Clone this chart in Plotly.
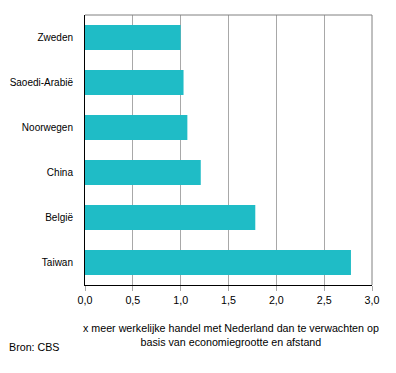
import plotly.graph_objects as go

categories = ["Zweden", "Saoedi-Arabië", "Noorwegen", "China", "België", "Taiwan"]
values = [1.0, 1.03, 1.07, 1.21, 1.78, 2.78]
tick_vals = [0, 0.5, 1.0, 1.5, 2.0, 2.5, 3.0]
tick_text = ["0,0", "0,5", "1,0", "1,5", "2,0", "2,5", "3,0"]
x_title = "x meer werkelijke handel met Nederland dan te verwachten op<br>basis van economiegrootte en afstand"
source = "Bron: CBS"

FONT = "Liberation Sans, Arial, sans-serif"

fig = go.Figure(go.Bar(
    x=values, y=categories, orientation="h",
    marker=dict(color="#1fbcc6", line=dict(width=0)),
    width=0.555, hoverinfo="skip",
))

# page body has an 8px default margin; compensate
fig.update_layout(
    width=388, height=365,
    margin=dict(l=77, r=24, t=7, b=88, autoexpand=False),
    plot_bgcolor="white", paper_bgcolor="white",
    showlegend=False,
    font=dict(family=FONT, size=10.7, color="#000000"),
    xaxis=dict(
        range=[0, 3.0], tickvals=tick_vals, ticktext=tick_text,
        showgrid=True, gridcolor="#a8a8a8", gridwidth=1,
        ticks="outside", ticklen=5, tickcolor="#a8a8a8", tickwidth=1,
        showline=True, linecolor="#000000", linewidth=1,
        zeroline=False, fixedrange=True, automargin=False,
        tickfont=dict(size=10.7),
    ),
    yaxis=dict(
        categoryorder="array", categoryarray=categories,
        autorange="reversed",
        showgrid=False, ticks="", ticklabelstandoff=9,
        showline=True, linecolor="#000000", linewidth=1,
        zeroline=False, fixedrange=True, automargin=False,
        tickfont=dict(size=10),
    ),
    shapes=[
        dict(type="line", xref="paper", yref="paper", x0=0, x1=1, y0=1, y1=1,
             line=dict(color="#808080", width=1)),
        dict(type="line", xref="paper", yref="paper", x0=1, x1=1, y0=0, y1=1,
             line=dict(color="#808080", width=1)),
    ],
    annotations=[
        dict(text=x_title, xref="paper", yref="paper", x=0.509, y=-0.13,
             xanchor="center", yanchor="top", showarrow=False,
             font=dict(family=FONT, size=10.7, color="#000000"), align="center"),
        dict(text=source, xref="paper", yref="paper", x=-0.272, y=-0.2,
             xanchor="left", yanchor="top", showarrow=False,
             font=dict(family=FONT, size=10.7, color="#000000"), align="left"),
    ],
)

fig.write_html("out.html")
